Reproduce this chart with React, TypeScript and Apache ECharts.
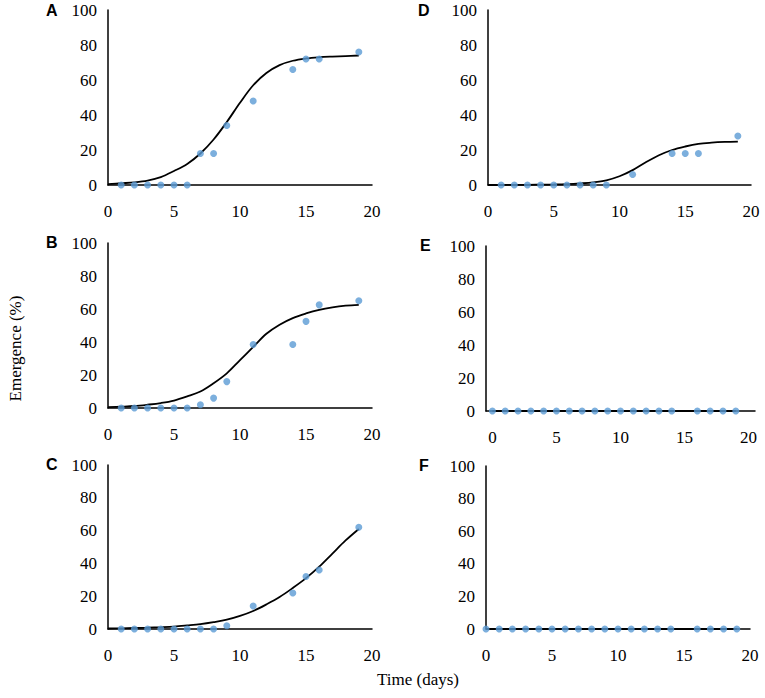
import React, { useEffect, useRef } from "react";
import * as echarts from "echarts";

// Observed emergence (%) per panel
const daysABCD = [1, 2, 3, 4, 5, 6, 7, 8, 9, 11, 14, 15, 16, 19];
const emergA = [0, 0, 0, 0, 0, 0, 18, 18, 34, 48, 66, 72, 72, 76];
const emergB = [0, 0, 0, 0, 0, 0, 2, 6, 16, 38.5, 38.5, 52.5, 62.5, 65];
const emergC = [0, 0, 0, 0, 0, 0, 0, 0, 2, 14, 22, 32, 36, 62];
const emergD = [0, 0, 0, 0, 0, 0, 0, 0, 0, 6, 18, 18, 18, 28];
const daysEF = [0, 1, 2, 3, 4, 5, 6, 7, 8, 9, 10, 11, 12, 13, 14, 16, 17, 18, 19];
const emergE = [0, 0, 0, 0, 0, 0, 0, 0, 0, 0, 0, 0, 0, 0, 0, 0, 0, 0, 0];
const emergF = [0, 0, 0, 0, 0, 0, 0, 0, 0, 0, 0, 0, 0, 0, 0, 0, 0, 0, 0];

// Fitted curves
const fitDays = [0, 1, 2, 3, 4, 5, 6, 7, 8, 9, 10, 11, 12, 13, 14, 15, 16, 17, 18, 19];
const fitA = [0.5, 1, 1.5, 2.5, 4.5, 8, 12, 18, 26, 36, 47, 57, 64, 68.5, 71, 72.3, 73, 73.4, 73.7, 74];
const fitB = [0.5, 0.8, 1.2, 2, 3, 4.5, 7, 10, 15, 21, 29, 37, 45, 50.5, 54.5, 57.3, 59.5, 61, 62, 62.5];
const fitC = [0.3, 0.4, 0.6, 0.8, 1.1, 1.5, 2.2, 3, 4.2, 5.7, 8, 11, 15, 19.5, 25, 31, 38, 46, 54, 61];
const fitD = [0, 0, 0.1, 0.1, 0.2, 0.3, 0.5, 0.9, 1.5, 2.7, 5, 8.5, 13, 17, 20, 22, 23.5, 24.2, 24.6, 24.8];
const fitE = [0, 0, 0, 0, 0, 0, 0, 0, 0, 0, 0, 0, 0, 0, 0, 0, 0, 0, 0, 0];
const fitF = [0, 0, 0, 0, 0, 0, 0, 0, 0, 0, 0, 0, 0, 0, 0, 0, 0, 0, 0, 0];

const panelLetters = ["A", "B", "C", "D", "E", "F"];
const yAxisTitle = "Emergence (%)";
const xAxisTitle = "Time (days)";

const pairs = (xs: number[], ys: number[]) => xs.map((x, i) => [x, ys[i]]);

export default function App() {
  const ref = useRef<HTMLDivElement>(null);
  useEffect(() => {
    document.body.style.margin = "0";
    if (!ref.current) return;
    const chart = echarts.init(ref.current, undefined, { renderer: "svg" });
    const grids = [
      { left: 108, top: 10, width: 264, height: 175 },
      { left: 108, top: 243, width: 264, height: 165 },
      { left: 108, top: 465, width: 264, height: 164 },
      { left: 488, top: 10, width: 263, height: 175 },
      { left: 486, top: 246, width: 269, height: 165 },
      { left: 486, top: 466, width: 264, height: 163 },
    ];
    const obs = [
      pairs(daysABCD, emergA),
      pairs(daysABCD, emergB),
      pairs(daysABCD, emergC),
      pairs(daysABCD, emergD),
      pairs(daysEF, emergE),
      pairs(daysEF, emergF),
    ];
    const fits = [fitA, fitB, fitC, fitD, fitE, fitF].map((f) => pairs(fitDays, f));

    const xAxis = grids.map((_, i) => {
      const base: any = {
        type: "value",
        gridIndex: i,
        axisLine: { lineStyle: { color: "#000", width: 1.5 } },
        axisTick: { length: 0, lineStyle: { color: "transparent" } },
        splitLine: { lineStyle: { color: "transparent" } },
        axisLabel: { fontSize: 17, color: "black", fontFamily: "Liberation Serif", padding: [10, 0, 0, 0] },
      };
      if (i === 4) {
        // axis extends half a day either side of the 0–20 range
        base.min = -0.5;
        base.max = 20.5;
        base.interval = 0.5;
        base.axisLabel.formatter = (v: number) => (Math.abs(v % 5) < 1e-6 ? String(v) : "");
        base.axisLabel.interval = 0;
      } else {
        base.min = 0;
        base.max = 20;
        base.interval = 5;
      }
      return base;
    });
    const yAxis = grids.map((_, i) => {
      const ax: any = {
        type: "value",
        gridIndex: i,
        min: 0,
        max: 100,
        interval: 20,
        axisLine: { show: true, lineStyle: { color: "#000", width: 1.5 } },
        axisTick: { length: 0, lineStyle: { color: "transparent" } },
        splitLine: { lineStyle: { color: "transparent" } },
        axisLabel: { fontSize: 17, color: "black", fontFamily: "Liberation Serif", padding: [0, 3, 0, 0] },
      };
      if (i === 4) ax.axisLine.onZero = false;
      if (i === 1) {
        ax.name = yAxisTitle;
        ax.nameLocation = "middle";
        ax.nameRotate = 90;
        ax.nameGap = 84;
        ax.nameTextStyle = {
          fontSize: 17,
          color: "black",
          fontFamily: "Liberation Serif",
          padding: [0, 46, 0, 0],
        };
      }
      return ax;
    });

    const series: any[] = [];
    grids.forEach((_, i) => {
      series.push({
        type: "line",
        xAxisIndex: i,
        yAxisIndex: i,
        data: fits[i],
        smooth: 0.35,
        showSymbol: false,
        symbol: "none",
        lineStyle: { color: "#000", width: 1.8 },
        z: 2,
      });
      series.push({
        type: "scatter",
        xAxisIndex: i,
        yAxisIndex: i,
        data: obs[i],
        symbolSize: 7,
        itemStyle: { color: "#5B9BD5" },
        z: 3,
      });
    });

    const letterPos = [
      [46, 2],
      [46, 234],
      [46, 456],
      [418, 2],
      [420, 237],
      [419, 457],
    ];
    const title: any[] = panelLetters.map((t, i) => ({
      text: t,
      left: letterPos[i][0],
      top: letterPos[i][1],
      padding: 0,
      textStyle: {
        color: "#000",
        fontFamily: "Liberation Sans",
        fontWeight: "bold",
        fontSize: 16,
      },
    }));
    title.push({
      text: xAxisTitle,
      left: 377,
      top: 671,
      padding: 0,
      textStyle: {
        color: "#000",
        fontFamily: "Liberation Serif",
        fontWeight: "normal",
        fontSize: 17,
      },
    });

    chart.setOption({
      animation: false,
      title,
      grid: grids,
      xAxis,
      yAxis,
      series,
    });
    return () => chart.dispose();
  }, []);
  return <div ref={ref} style={{ width: 765, height: 698 }} />;
}
